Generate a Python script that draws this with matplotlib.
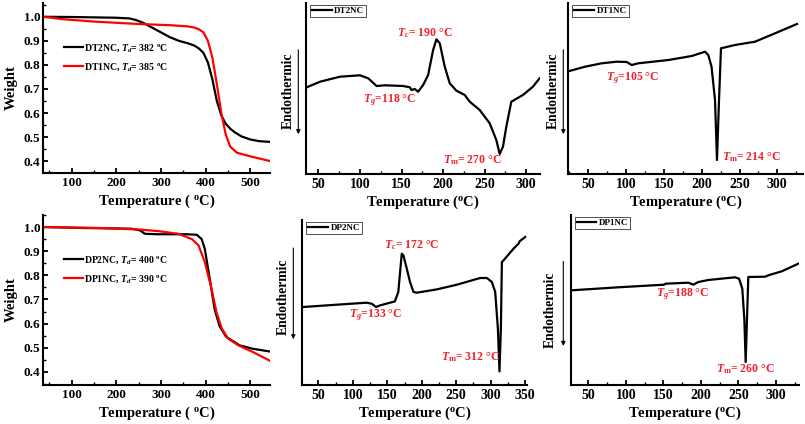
import matplotlib
matplotlib.use("Agg")
import matplotlib.pyplot as plt
from matplotlib.ticker import MultipleLocator, NullLocator

plt.rcParams['font.family'] = ['Liberation Serif', 'DejaVu Serif']
plt.rcParams['font.weight'] = 'bold'
plt.rcParams['mathtext.fontset'] = 'custom'
plt.rcParams['mathtext.rm'] = 'Liberation Serif:bold'
plt.rcParams['mathtext.it'] = 'Liberation Serif:italic:bold'
plt.rcParams['mathtext.bf'] = 'Liberation Serif:bold'

RED = '#ff0000'
TRED = '#f0202a'

# ---------------- TGA data ----------------
tga1_T = [36, 100, 200, 230, 245, 260, 280, 300, 320, 340, 360, 375, 385, 395, 405, 415, 425, 435, 445, 455, 465, 480, 500, 520, 545]
dt2nc_w = [1.0, 0.999, 0.996, 0.993, 0.986, 0.975, 0.955, 0.935, 0.915, 0.9, 0.89, 0.88, 0.868, 0.85, 0.81, 0.74, 0.65, 0.59, 0.555, 0.535, 0.52, 0.503, 0.49, 0.483, 0.48]
tga1r_T = [36, 80, 150, 250, 320, 360, 375, 385, 395, 405, 415, 425, 435, 445, 455, 470, 500, 545]
dt1nc_w = [1.0, 0.99, 0.98, 0.97, 0.965, 0.96, 0.955, 0.948, 0.935, 0.9, 0.83, 0.72, 0.6, 0.51, 0.46, 0.435, 0.42, 0.40]

tga2_T = [36, 126, 234, 253, 264, 294, 357, 380, 391, 398, 409, 420, 431, 446, 476, 505, 545]
dp2nc_w = [1.0, 0.996, 0.993, 0.986, 0.972, 0.97, 0.97, 0.968, 0.95, 0.91, 0.786, 0.66, 0.59, 0.545, 0.51, 0.496, 0.484]
tga2r_T = [36, 164, 249, 294, 339, 369, 384, 398, 413, 424, 436, 450, 473, 505, 545]
dp1nc_w = [1.0, 0.996, 0.99, 0.983, 0.972, 0.95, 0.924, 0.855, 0.745, 0.648, 0.58, 0.538, 0.51, 0.483, 0.445]

# ---------------- DSC data (arbitrary heat flow units) ----------------
dt2nc_T = [36, 52, 76, 100, 110, 120, 130, 152, 160, 162, 166, 170, 176, 182, 188, 192, 196, 202, 208, 216, 226, 232, 244, 256, 264, 268, 272, 276, 282, 296, 308, 316]
dt2nc_hf = [86.7, 92.3, 97.3, 98.7, 95.7, 88, 88.7, 88, 86.7, 84, 85, 82.3, 89, 99, 124, 134.7, 130.7, 107.3, 90.7, 83.3, 79, 72.3, 64, 50.7, 34, 20, 27.3, 47.3, 72.3, 79, 87.3, 95.7]

dt1nc_T = [25, 45.6, 67.7, 87.6, 100.8, 107.4, 116, 156, 186.8, 204.4, 208.7, 213, 217.6, 220.2, 222.9, 225.5, 244, 270.5, 297, 326]
dt1nc_hf = [103, 107.3, 110.7, 112.3, 112, 109, 110.7, 114, 118, 122.3, 119, 107.3, 74, 14, 74, 125.7, 129, 132.3, 140.7, 150]

dp2nc_T = [28, 76.7, 120, 127.5, 133.7, 139.5, 161, 166, 168.6, 171, 173.4, 178.3, 183, 188, 192.8, 221.8, 250.9, 284.7, 294.4, 301.7, 306.5, 310.4, 312.7, 314.7, 316.2, 318.5, 333, 340.3, 342, 350]
dp2nc_hf = [77.7, 80, 82, 81, 77.7, 79.3, 83.3, 92.7, 112.7, 131, 129.3, 116, 102.7, 92.7, 92, 95.3, 100, 106.7, 106.7, 102.7, 92.7, 56, 13.3, 56, 122.7, 124.3, 136, 141, 143.5, 147.7]

dp1nc_T = [27.9, 90, 151, 153, 183.4, 190, 196.7, 210, 245.6, 251, 255.3, 258, 259.8, 261.6, 263.3, 285.6, 290, 308, 330]
dp1nc_hf = [94.7, 97.7, 100.3, 101.3, 102.3, 100.3, 103, 105, 107.7, 106.3, 96.3, 66.3, 23, 66.3, 108, 108.3, 109.7, 113.7, 121.3]

W, H = 805, 424
fig = plt.figure(figsize=(W / 100, H / 100), dpi=100)


def add_ax(l, r, t, b):
    return fig.add_axes([l / W, 1 - b / H, (r - l) / W, (b - t) / H])


def style(ax, major, minor, dsc):
    for s in ['top', 'right']:
        ax.spines[s].set_visible(False)
    for s in ['left', 'bottom']:
        ax.spines[s].set_linewidth(1.5)
    ax.xaxis.set_major_locator(MultipleLocator(major))
    ax.xaxis.set_minor_locator(MultipleLocator(minor))
    ax.tick_params(axis='x', which='major', direction='in', length=3.5, width=1.3,
                   labelsize=10 if dsc else 9.5, pad=3)
    ax.tick_params(axis='x', which='minor', direction='in', length=2, width=1.0)
    if dsc:
        ax.yaxis.set_major_locator(NullLocator())
        ax.yaxis.set_minor_locator(NullLocator())
    else:
        ax.yaxis.set_major_locator(MultipleLocator(0.1))
        ax.yaxis.set_minor_locator(MultipleLocator(0.05))
        ax.tick_params(axis='y', which='major', direction='in', length=3.5, width=1.3, labelsize=9.5, pad=2)
        ax.tick_params(axis='y', which='minor', direction='in', length=2, width=1.0)


def fp(px, py):
    return (px / W, 1 - py / H)


def endo(tx, ty, ax_x, ay0, ay1):
    fig.text(*fp(tx, ty), 'Endothermic', rotation=90, ha='center', va='center', fontsize=9.8, fontweight='bold')
    fig.add_artist(matplotlib.patches.FancyArrowPatch(fp(ax_x, ay0), fp(ax_x, ay1), transform=fig.transFigure,
                                                      arrowstyle='-|>', mutation_scale=6, lw=0.8, color='black'))


ANN = 8.5

# Panel 1: TGA top
ax1 = add_ax(43.3, 270, 3.3, 172.7)
ax1.plot(tga1_T, dt2nc_w, color='black', lw=1.6, label=r'DT2NC, $T_{d}$= 382 $^{\mathrm{o}}$C')
ax1.plot(tga1r_T, dt1nc_w, color=RED, lw=1.6, label=r'DT1NC, $T_{d}$= 385 $^{\mathrm{o}}$C')
ax1.set_xlim(36.5, 544)
ax1.set_ylim(0.352, 1.056)
style(ax1, 100, 50, False)
ax1.set_xlabel(r'Temperature ( $^{\mathrm{o}}$C)', fontsize=10.5, fontweight='bold', labelpad=3)
ax1.set_ylabel('Weight', fontsize=10.5, fontweight='bold', labelpad=4)
ax1.legend(loc='upper left', bbox_to_anchor=(0.07, 0.80), frameon=False, fontsize=7, handlelength=1.9,
           handletextpad=0.2, labelspacing=0.75, borderpad=0)

# Panel 4: TGA bottom
ax4 = add_ax(43.3, 270, 214.7, 384.7)
ax4.plot(tga2_T, dp2nc_w, color='black', lw=1.6, label=r'DP2NC, $T_{d}$= 400 $^{\mathrm{o}}$C')
ax4.plot(tga2r_T, dp1nc_w, color=RED, lw=1.6, label=r'DP1NC, $T_{d}$= 390 $^{\mathrm{o}}$C')
ax4.set_xlim(36.5, 544)
ax4.set_ylim(0.347, 1.051)
style(ax4, 100, 50, False)
ax4.set_xlabel(r'Temperature ( $^{\mathrm{o}}$C)', fontsize=10.5, fontweight='bold', labelpad=3)
ax4.set_ylabel('Weight', fontsize=10.5, fontweight='bold', labelpad=4)
ax4.legend(loc='upper left', bbox_to_anchor=(0.07, 0.80), frameon=False, fontsize=7, handlelength=1.9,
           handletextpad=0.2, labelspacing=0.75, borderpad=0)


def dsc_legend(ax):
    lg = ax.legend(loc='upper left', bbox_to_anchor=(0.01, 1.0), frameon=True, fancybox=False, fontsize=6.5,
                   handlelength=2.2, handletextpad=0.3, borderpad=0.2, borderaxespad=0.2)
    lg.get_frame().set_edgecolor('black')
    lg.get_frame().set_linewidth(0.6)


# Panel 2: DSC DT2NC
ax2 = add_ax(305.7, 540, 3, 174)
ax2.plot(dt2nc_T, dt2nc_hf, color='black', lw=1.6, label='DT2NC')
ax2.set_xlim(34.8, 316.5)
ax2.set_ylim(0, 171)
style(ax2, 50, 25, True)
ax2.set_xlabel(r'Temperature ($^{\mathrm{o}}$C)', fontsize=10.5, fontweight='bold', labelpad=2)
dsc_legend(ax2)
ax2.text(178, 140.7, r'$T_{c}$= 190 °C', color=TRED, fontsize=ANN, ha='center', va='center')
ax2.text(136, 74, r'$T_{g}$=118 °C', color=TRED, fontsize=ANN, ha='center', va='center')
ax2.text(235.6, 14, r'$T_{\mathrm{m}}$= 270 °C', color=TRED, fontsize=ANN, ha='center', va='center')
endo(288, 91, 298.3, 47, 137)

# Panel 3: DSC DT1NC
ax3 = add_ax(568.3, 803, 3, 174)
ax3.plot(dt1nc_T, dt1nc_hf, color='black', lw=1.6, label='DT1NC')
ax3.set_xlim(23.5, 334)
ax3.set_ylim(0, 171)
style(ax3, 50, 25, True)
ax3.set_xlabel(r'Temperature ($^{\mathrm{o}}$C)', fontsize=10.5, fontweight='bold', labelpad=2)
dsc_legend(ax3)
ax3.text(109, 96, r'$T_{g}$=105 °C', color=TRED, fontsize=ANN, ha='center', va='center')
ax3.text(266, 17, r'$T_{\mathrm{m}}$= 214 °C', color=TRED, fontsize=ANN, ha='center', va='center')
endo(553, 91, 563.3, 47, 137)

# Panel 5: DSC DP2NC
ax5 = add_ax(302.3, 527, 220, 384.7)
ax5.plot(dp2nc_T, dp2nc_hf, color='black', lw=1.6, label='DP2NC')
ax5.set_xlim(26.8, 352.6)
ax5.set_ylim(0, 164.7)
style(ax5, 50, 25, True)
ax5.set_xlabel(r'Temperature ($^{\mathrm{o}}$C)', fontsize=10.5, fontweight='bold', labelpad=2)
dsc_legend(ax5)
ax5.text(185.6, 139.4, r'$T_{c}$= 172 °C', color=TRED, fontsize=ANN, ha='center', va='center')
ax5.text(133.5, 69.4, r'$T_{g}$=133 °C', color=TRED, fontsize=ANN, ha='center', va='center')
ax5.text(270, 27.7, r'$T_{\mathrm{m}}$= 312 °C', color=TRED, fontsize=ANN, ha='center', va='center')
endo(283.3, 297, 293.3, 245.3, 342)

# Panel 6: DSC DP1NC
ax6 = add_ax(570.7, 799, 215, 385)
ax6.plot(dp1nc_T, dp1nc_hf, color='black', lw=1.6, label='DP1NC')
ax6.set_xlim(26.5, 330.9)
ax6.set_ylim(0, 170)
style(ax6, 50, 25, True)
ax6.set_xlabel(r'Temperature ($^{\mathrm{o}}$C)', fontsize=10.5, fontweight='bold', labelpad=2)
dsc_legend(ax6)
ax6.text(175.6, 91.3, r'$T_{g}$=188 °C', color=TRED, fontsize=ANN, ha='center', va='center')
ax6.text(259, 16.3, r'$T_{\mathrm{m}}$= 260 °C', color=TRED, fontsize=ANN, ha='center', va='center')
endo(550, 309.5, 563.3, 258.7, 348.7)

fig.savefig('out.png', dpi=100)
